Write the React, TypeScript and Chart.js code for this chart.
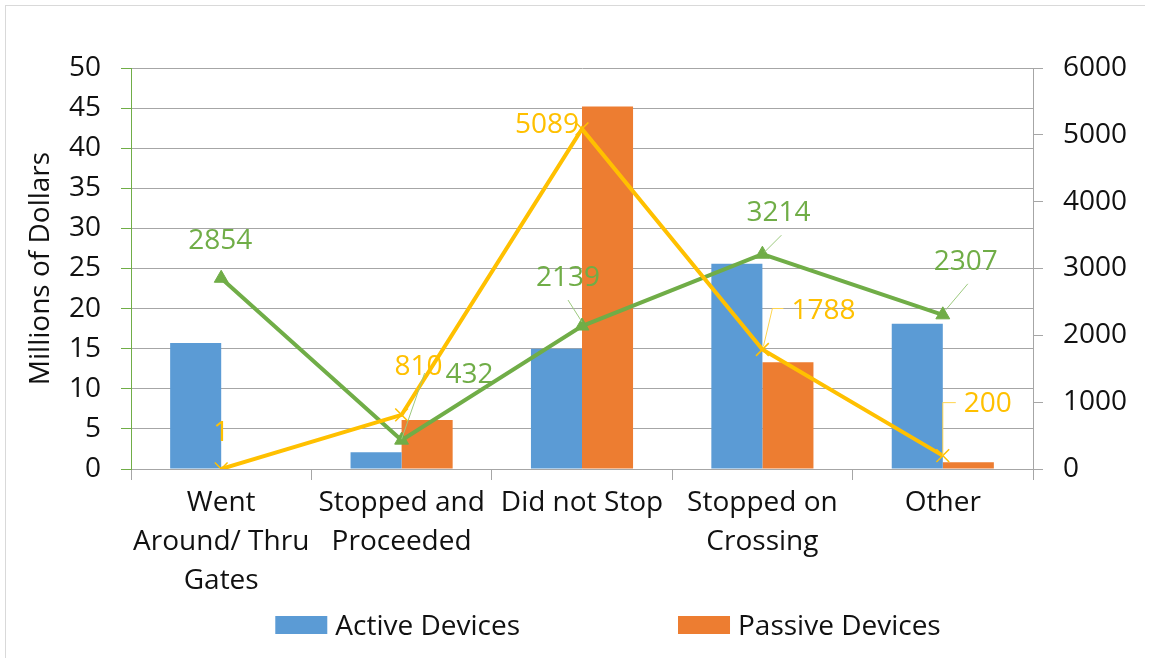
import React, { useEffect, useRef } from "react";
import { Chart, registerables } from "chart.js";

Chart.register(...registerables);

// ---------- data ----------
const categories: (string | string[])[] = [
  ["Went", "Around/ Thru", "Gates"],
  ["Stopped and", "Proceeded"],
  "Did not Stop",
  ["Stopped on", "Crossing"],
  "Other",
];
const activeDollars = [15.7, 2.1, 15.0, 25.6, 18.1];
const passiveDollars = [0, 6.1, 45.2, 13.3, 0.85];
const activeCounts = [2854, 432, 2139, 3214, 2307];
const passiveCounts = [1, 810, 5089, 1788, 200];
const leftAxisRange = [0, 50, 5];
const rightAxisRange = [0, 6000, 1000];
const legendNames = ["Active Devices", "Passive Devices"];
const yTitle = "Millions of Dollars";

// ---------- styles ----------
const BLUE = "#5B9BD5";
const ORANGE = "#ED7D31";
const GREEN = "#70AD47";
const YELLOW = "#FFC000";
const GRID = "#a6a6a6";
const TEXT = "#111111";
const FONT_FAMILY = "'Open Sans', 'Liberation Sans', sans-serif";
const FONT_SIZE = 28;

type LabelPos = { dx: number; dy: number; leader?: number[][] };
// label offsets relative to each point (annotation placement)
const activeLabelPos: LabelPos[] = [
  { dx: -1, dy: -37 },
  { dx: 68, dy: -65, leader: [[0, -1], [23, -67]] },
  { dx: -14, dy: -48, leader: [[0, -4], [-14, -26]] },
  { dx: 16, dy: -41, leader: [[2, -2], [19, -19]] },
  { dx: 23, dy: -53, leader: [[3, -5], [25, -31]] },
];
const passiveLabelPos: LabelPos[] = [
  { dx: 0, dy: -36 },
  { dx: 17, dy: -48 },
  { dx: -35, dy: -4 },
  { dx: 61, dy: -38, leader: [[1, -3], [10, -41], [21, -41]] },
  { dx: 45, dy: -52, leader: [[0, 0], [0, -53], [13, -53]] },
];

const pointLabelPlugin = {
  id: "pointLabels",
  afterDatasetsDraw(chart: any) {
    const ctx = chart.ctx as CanvasRenderingContext2D;
    const specs = [
      { index: 2, pos: activeLabelPos, color: GREEN, lead: "#9cc97e" },
      { index: 3, pos: passiveLabelPos, color: YELLOW, lead: "#ffd44d" },
    ];
    ctx.save();
    ctx.font = `${FONT_SIZE}px ${FONT_FAMILY}`;
    ctx.textAlign = "center";
    ctx.textBaseline = "middle";
    specs.forEach((s) => {
      const meta = chart.getDatasetMeta(s.index);
      const data = chart.data.datasets[s.index].data;
      meta.data.forEach((pt: any, i: number) => {
        const p = s.pos[i];
        if (!p) return;
        if (p.leader) {
          ctx.beginPath();
          ctx.strokeStyle = s.lead;
          ctx.lineWidth = 1;
          p.leader.forEach(([lx, ly], k) => {
            if (k === 0) ctx.moveTo(pt.x + lx, pt.y + ly);
            else ctx.lineTo(pt.x + lx, pt.y + ly);
          });
          ctx.stroke();
        }
        ctx.fillStyle = s.color;
        ctx.fillText(String(data[i]), pt.x + p.dx, pt.y + p.dy);
      });
    });
    ctx.restore();
  },
};

const legendPlugin = {
  id: "customLegend",
  afterDraw(chart: any) {
    const ctx = chart.ctx as CanvasRenderingContext2D;
    ctx.save();
    ctx.font = `${FONT_SIZE}px ${FONT_FAMILY}`;
    ctx.textBaseline = "middle";
    ctx.textAlign = "left";
    const boxW = 52;
    const boxH = 18;
    const gapText = 8;
    const gapItems = 158;
    const colors = [BLUE, ORANGE];
    const widths = legendNames.map((n) => boxW + gapText + ctx.measureText(n).width);
    const total = widths.reduce((a, b) => a + b, 0) + gapItems * (widths.length - 1);
    const cx = 608;
    const cy = 625;
    let x = cx - total / 2;
    legendNames.forEach((n, i) => {
      ctx.fillStyle = colors[i];
      ctx.fillRect(x, cy - boxH / 2, boxW, boxH);
      ctx.fillStyle = TEXT;
      ctx.fillText(n, x + boxW + gapText, cy + 2);
      x += widths[i] + gapItems;
    });
    ctx.restore();
  },
};

export default function App() {
  const ref = useRef<HTMLCanvasElement>(null);

  useEffect(() => {
    let chart: Chart | null = null;
    let cancelled = false;
    const font = { family: FONT_FAMILY, size: FONT_SIZE };
    const build = () => {
      if (cancelled || !ref.current) return;
      chart = new Chart(ref.current, {
        type: "bar",
        data: {
          labels: categories as any,
          datasets: [
            {
              type: "bar",
              label: legendNames[0],
              data: activeDollars,
              backgroundColor: BLUE,
              borderWidth: 0,
              yAxisID: "y",
              categoryPercentage: 0.566,
              barPercentage: 1,
              order: 2,
            },
            {
              type: "bar",
              label: legendNames[1],
              data: passiveDollars,
              backgroundColor: ORANGE,
              borderWidth: 0,
              yAxisID: "y",
              categoryPercentage: 0.566,
              barPercentage: 1,
              order: 2,
            },
            {
              type: "line",
              label: "Active count",
              data: activeCounts,
              borderColor: GREEN,
              backgroundColor: GREEN,
              borderWidth: 4,
              pointStyle: "triangle",
              pointRadius: 8,
              pointBorderWidth: 1,
              pointBackgroundColor: GREEN,
              pointBorderColor: GREEN,
              yAxisID: "y1",
              order: 1,
            } as any,
            {
              type: "line",
              label: "Passive count",
              data: passiveCounts,
              borderColor: YELLOW,
              backgroundColor: YELLOW,
              borderWidth: 4,
              pointStyle: "crossRot",
              pointRadius: 9,
              pointBorderWidth: 1.5,
              pointBorderColor: YELLOW,
              yAxisID: "y1",
              order: 0,
            } as any,
          ],
        },
        options: {
          animation: false,
          responsive: false,
          devicePixelRatio: 1,
          layout: { padding: { top: 68, left: 0, right: 0, bottom: 0 } },
          plugins: {
            legend: { display: false },
            tooltip: { enabled: false },
            title: { display: false },
          },
          scales: {
            x: {
              offset: true,
              grid: {
                display: true,
                offset: true,
                drawOnChartArea: false,
                drawTicks: true,
                tickLength: 11,
                color: GRID,
              },
              border: { color: GRID, width: 1 },
              ticks: {
                font: { ...font, lineHeight: 1.39 },
                color: TEXT,
                padding: 3.5,
                maxRotation: 0,
                autoSkip: false,
              },
              afterFit: (s: any) => {
                s.height = 189;
              },
            },
            y: {
              position: "left",
              min: leftAxisRange[0],
              max: leftAxisRange[1],
              ticks: {
                stepSize: leftAxisRange[2],
                padding: 20,
                font,
                color: TEXT,
                callback: (v: any) => String(v),
              },
              grid: { color: GRID, tickColor: GREEN, tickLength: 10, lineWidth: 1 },
              border: { color: GREEN, width: 1 },
              title: {
                display: true,
                text: yTitle,
                font,
                color: TEXT,
                padding: { top: 24, bottom: 0 },
              },
              afterFit: (s: any) => {
                s.width = 131;
              },
            },
            y1: {
              position: "right",
              min: rightAxisRange[0],
              max: rightAxisRange[1],
              ticks: {
                stepSize: rightAxisRange[2],
                padding: 20,
                font,
                color: TEXT,
                callback: (v: any) => String(v),
              },
              grid: { drawOnChartArea: false, tickLength: 10, tickColor: GRID, color: GRID },
              border: { color: GRID, width: 1 },
              afterFit: (s: any) => {
                s.width = 120;
              },
            },
          },
        } as any,
        plugins: [pointLabelPlugin, legendPlugin],
      });
    };
    const f = (document as any).fonts;
    if (f && f.load) {
      f.load(`${FONT_SIZE}px 'Open Sans'`).then(build, build);
    } else build();
    return () => {
      cancelled = true;
      if (chart) chart.destroy();
    };
  }, []);

  return (
    <div
      style={{
        position: "fixed",
        left: 0,
        top: 0,
        width: 1153,
        height: 658,
        background: "#fff",
        overflow: "hidden",
      }}
    >
      <div
        style={{
          position: "absolute",
          left: 5,
          top: 5,
          width: 1139,
          height: 700,
          borderTop: "1px solid #d9d9d9",
          borderLeft: "1px solid #d9d9d9",
        }}
      />
      <canvas
        ref={ref}
        width={1153}
        height={658}
        style={{ position: "absolute", left: 0, top: 0, display: "block" }}
      />
    </div>
  );
}
